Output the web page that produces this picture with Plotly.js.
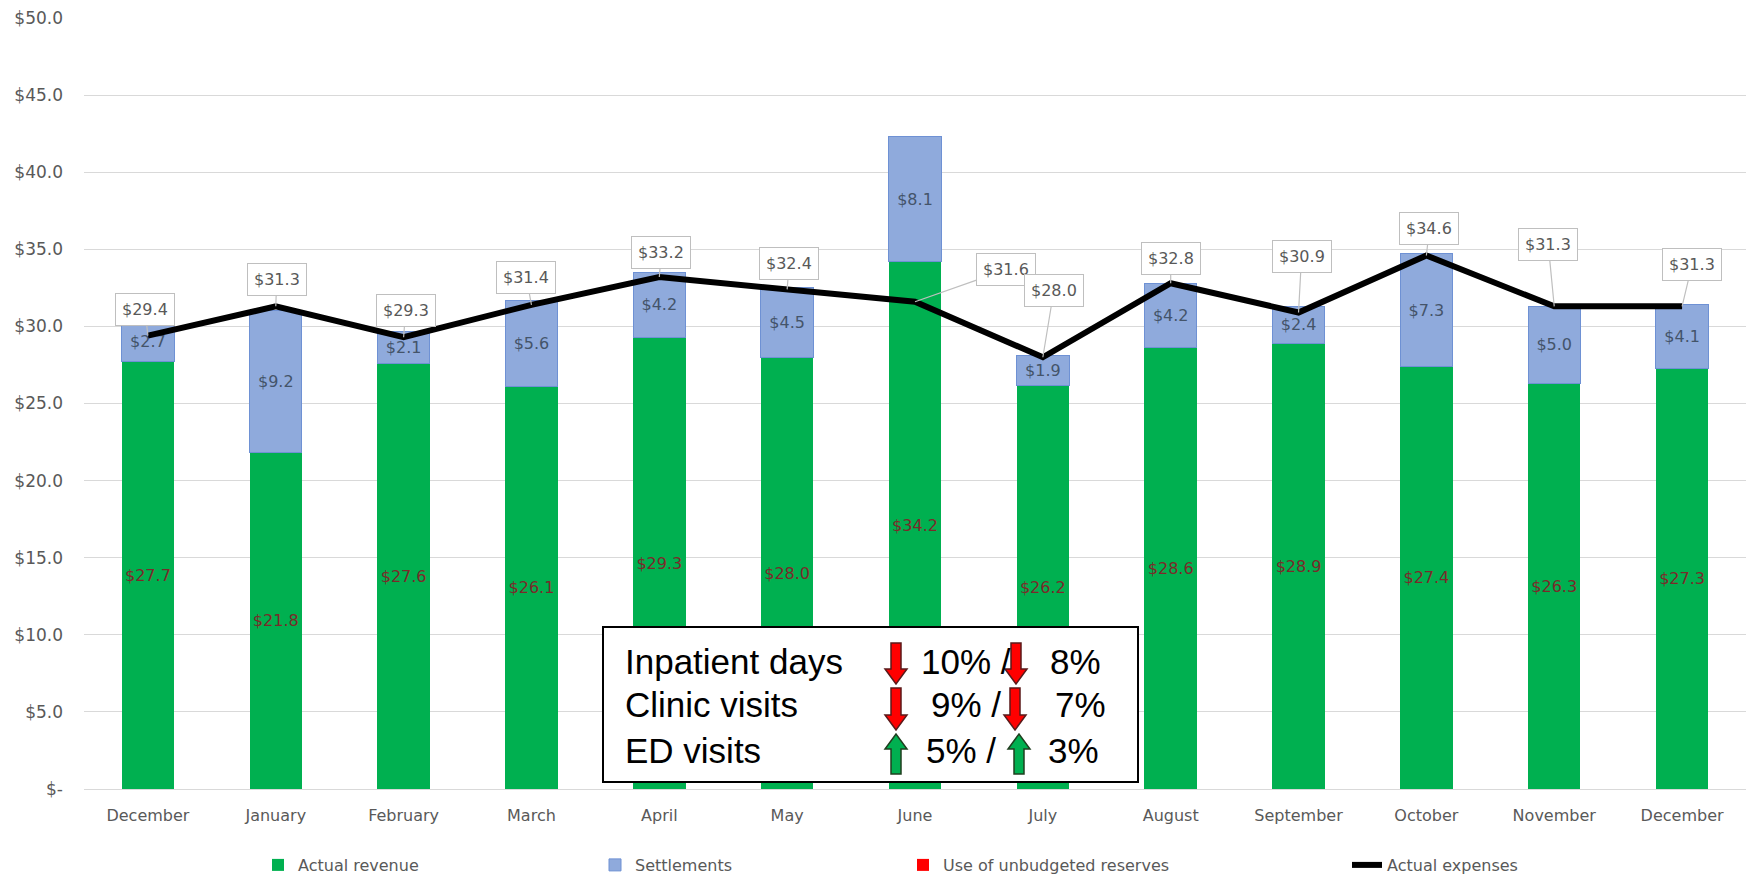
<!DOCTYPE html>
<html>
<head>
<meta charset="utf-8">
<script src="https://cdn.plot.ly/plotly-3.0.1.min.js"></script>
<style>
  html, body { margin: 0; padding: 0; background: #ffffff; }
  #chart { width: 1750px; height: 876px; }
</style>
</head>
<body>
<div id="chart"></div>
<script>
// ---------------- DATA ----------------
const months = ['December', 'January', 'February', 'March', 'April', 'May', 'June',
                'July', 'August', 'September', 'October', 'November', 'December'];
const actualRevenue = [27.7, 21.8, 27.6, 26.1, 29.3, 28.0, 34.2, 26.2, 28.6, 28.9, 27.4, 26.3, 27.3];
const settlements = [2.7, 9.2, 2.1, 5.6, 4.2, 4.5, 8.1, 1.9, 4.2, 2.4, 7.3, 5.0, 4.1];
const unbudgetedReserves = [0, 0, 0, 0, 0, 0, 0, 0, 0, 0, 0, 0, 0];
const actualExpenses = [29.4, 31.3, 29.3, 31.4, 33.2, 32.4, 31.6, 28.0, 32.8, 30.9, 34.6, 31.3, 31.3];
const yTickValues = [0, 5, 10, 15, 20, 25, 30, 35, 40, 45, 50];
const yTickLabels = ['$-', '$5.0', '$10.0', '$15.0', '$20.0', '$25.0', '$30.0', '$35.0', '$40.0', '$45.0', '$50.0'];

const volumeLabels = ['Inpatient days', 'Clinic visits', 'ED visits'];
const volumeChange1 = ['10%', '9%', '5%'];
const volumeChange2 = ['8%', '7%', '3%'];
const volumeUp = [false, false, true];

// ---------------- LAYOUT HELPERS ----------------
const M = { l: 84, r: 4, t: 18, b: 87 };
const W = 1750, H = 876;
const PW = W - M.l - M.r, PH = H - M.t - M.b;
const px = x => (x - M.l) / PW;
const py = y => (H - M.b - y) / PH;

const idx = months.map((_, i) => i);

// label callout offsets (pixels) for the expense line labels
const labelOffsets = [[-3, -26], [1, -27], [2, -27], [-5, -27], [2, -25], [2, -26], [91, -32],
                      [11, -67], [0, -25], [3, -56], [3, -27], [-6, -62], [10, -42]];

const traces = [
  {
    type: 'bar', name: 'Actual revenue', x: idx, y: actualRevenue,
    marker: { color: '#00B050', line: { width: 0 } },
    texttemplate: '$%{y:.1f}', textposition: 'inside', insidetextanchor: 'middle',
    textangle: 0, constraintext: 'none',
    insidetextfont: { family: 'DejaVu Sans', size: 16, color: '#7A2A2A' },
    hoverinfo: 'skip', legend: 'legend'
  },
  {
    type: 'bar', name: 'Settlements', x: idx, y: settlements,
    marker: { color: '#8FAADC', line: { width: 1, color: '#6E91D4' } },
    texttemplate: '$%{y:.1f}', textposition: 'inside', insidetextanchor: 'middle',
    textangle: 0, constraintext: 'none',
    insidetextfont: { family: 'DejaVu Sans', size: 16, color: '#44546A' },
    hoverinfo: 'skip', legend: 'legend2'
  },
  {
    type: 'bar', name: 'Use of unbudgeted reserves', x: idx, y: unbudgetedReserves,
    marker: { color: '#FF0000', line: { width: 0 } },
    hoverinfo: 'skip', legend: 'legend3'
  },
  {
    type: 'scatter', mode: 'lines', name: 'Actual expenses', x: idx, y: actualExpenses,
    line: { color: '#000000', width: 6 },
    hoverinfo: 'skip', legend: 'legend4'
  }
];

const annotations = actualExpenses.map((v, i) => ({
  x: i, y: v, xref: 'x', yref: 'y',
  text: '$' + v.toFixed(1),
  showarrow: true, arrowhead: 0, arrowwidth: 1.2, arrowcolor: '#BFBFBF', standoff: 0,
  ax: labelOffsets[i][0], ay: labelOffsets[i][1],
  bgcolor: '#FFFFFF', bordercolor: '#BFBFBF', borderwidth: 1, borderpad: 6,
  font: { family: 'DejaVu Sans', size: 16, color: '#595959' }
}));

// text box content
const rowY = [661, 704, 750];
const labelX = 624;
const pct1X = [920, 930, 925];
const pct2X = [1049, 1054, 1047];
const boxFont = { family: 'Liberation Sans, Arial, sans-serif', size: 35, color: '#000000' };
volumeLabels.forEach((lab, r) => {
  annotations.push({ xref: 'paper', yref: 'paper', x: px(labelX), y: py(rowY[r]), xanchor: 'left', yanchor: 'middle',
    text: lab, showarrow: false, font: boxFont, borderpad: 0 });
  annotations.push({ xref: 'paper', yref: 'paper', x: px(pct1X[r]), y: py(rowY[r]), xanchor: 'left', yanchor: 'middle',
    text: volumeChange1[r] + ' /', showarrow: false, font: boxFont, borderpad: 0 });
  annotations.push({ xref: 'paper', yref: 'paper', x: px(pct2X[r]), y: py(rowY[r]), xanchor: 'left', yanchor: 'middle',
    text: volumeChange2[r], showarrow: false, font: boxFont, borderpad: 0 });
});

function arrowPath(cx, top, bottom, up) {
  const sw = 5, hw = 11, hh = 15;
  let pts;
  if (!up) {
    pts = [[cx - sw, top], [cx + sw, top], [cx + sw, bottom - hh], [cx + hw, bottom - hh], [cx, bottom],
           [cx - hw, bottom - hh], [cx - sw, bottom - hh]];
  } else {
    pts = [[cx - sw, bottom], [cx + sw, bottom], [cx + sw, top + hh], [cx + hw, top + hh], [cx, top],
           [cx - hw, top + hh], [cx - sw, top + hh]];
  }
  return 'M' + pts.map(p => px(p[0]).toFixed(5) + ',' + py(p[1]).toFixed(5)).join('L') + 'Z';
}

const shapes = [
  { type: 'rect', xref: 'paper', yref: 'paper', x0: px(603), x1: px(1138), y0: py(782), y1: py(627),
    fillcolor: '#FFFFFF', line: { color: '#000000', width: 2 }, layer: 'above' }
];
const arrowTop = [643, 688, 734];
const arrowBot = [684, 730, 774];
const arrowX1 = [896, 896, 896];
const arrowX2 = [1016, 1015, 1019];
volumeUp.forEach((up, r) => {
  [arrowX1[r], arrowX2[r]].forEach(cx => {
    shapes.push({ type: 'path', xref: 'paper', yref: 'paper', path: arrowPath(cx, arrowTop[r], arrowBot[r], up),
      fillcolor: up ? '#00B050' : '#FF0000', line: { color: up ? '#1F3F1F' : '#5A1A1A', width: 1.5 }, layer: 'above' });
  });
});

const legendBase = { orientation: 'h', yanchor: 'middle', xanchor: 'left', yref: 'container', y: (H - 865) / H,
  font: { family: 'DejaVu Sans', size: 16, color: '#595959' }, bgcolor: 'rgba(0,0,0,0)' };

const layout = {
  width: W, height: H,
  margin: Object.assign({ autoexpand: false }, M),
  paper_bgcolor: '#FFFFFF', plot_bgcolor: '#FFFFFF',
  barmode: 'stack', bargap: 0.59,
  font: { family: 'DejaVu Sans', color: '#595959' },
  showlegend: true,
  legend: Object.assign({}, legendBase, { x: px(258) }),
  legend2: Object.assign({}, legendBase, { x: px(595) }),
  legend3: Object.assign({}, legendBase, { x: px(903) }),
  legend4: Object.assign({}, legendBase, { x: px(1347) }),
  xaxis: {
    range: [-0.5, 12.5], tickmode: 'array', tickvals: idx, ticktext: months,
    showgrid: false, zeroline: false, showline: true, linecolor: '#D9D9D9', linewidth: 1,
    ticks: '', ticklabelstandoff: 12,
    tickfont: { family: 'DejaVu Sans', size: 16, color: '#595959' }, fixedrange: true
  },
  yaxis: {
    range: [0, 50], tickmode: 'array', tickvals: yTickValues, ticktext: yTickLabels,
    showgrid: true, gridcolor: '#D9D9D9', gridwidth: 1, zeroline: false, showline: false,
    ticks: '', ticklabelstandoff: 20,
    tickfont: { family: 'DejaVu Sans', size: 17, color: '#595959' }, fixedrange: true
  },
  annotations: annotations,
  shapes: shapes
};

Plotly.newPlot('chart', traces, layout, { displayModeBar: false, staticPlot: true });
</script>
</body>
</html>
